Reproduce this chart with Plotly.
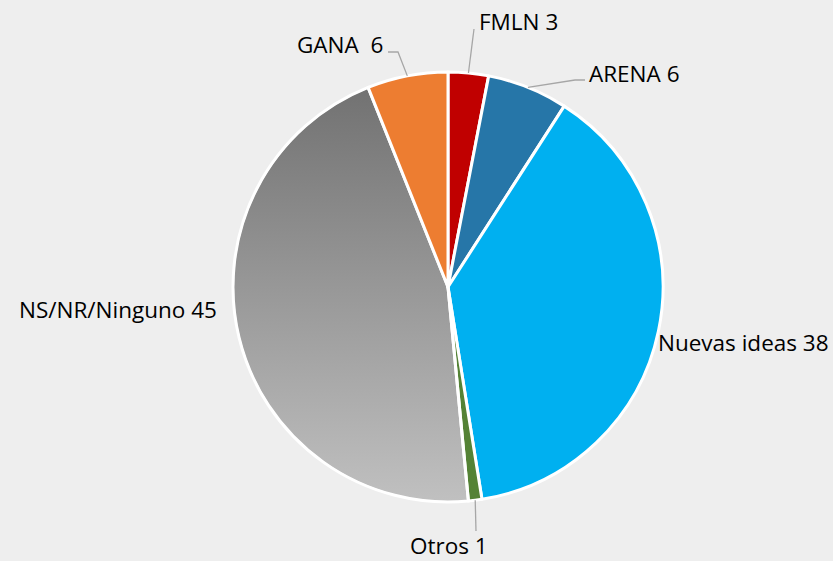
import math
import base64
import plotly.graph_objects as go

labels = ["FMLN", "ARENA", "Nuevas ideas", "Otros", "NS/NR/Ninguno", "GANA"]
values = [3, 6, 38, 1, 45, 6]
separators = [" ", " ", " ", " ", " ", "  "]
colors = ["#c00000", "#2676a8", "#00b0f0", "#548235", "rgba(0,0,0,0)", "#ed7d31"]

W, H = 833, 561
cx, cy, R = 448, 287, 215


def px(x):
    return x / W


def py(y):
    return 1 - y / H


fig = go.Figure(go.Pie(
    labels=labels,
    values=values,
    sort=False,
    direction="clockwise",
    rotation=0,
    textinfo="none",
    hoverinfo="label+value",
    marker=dict(colors=colors, line=dict(color="white", width=3)),
    domain=dict(x=[px(cx - R), px(cx + R)], y=[py(cy + R), py(cy - R)]),
    showlegend=False,
))

# vertical grey gradient fill (shows through the transparent NS/NR/Ninguno slice)
svg = (
    "<svg xmlns='http://www.w3.org/2000/svg' width='430' height='430'>"
    "<defs><linearGradient id='g' x1='0' y1='0' x2='0' y2='1'>"
    "<stop offset='0' stop-color='#6f6f6f'/><stop offset='1' stop-color='#c0c0c0'/>"
    "</linearGradient></defs>"
    "<circle cx='215' cy='215' r='214' fill='url(#g)'/></svg>"
)
src = "data:image/svg+xml;base64," + base64.b64encode(svg.encode()).decode()

# label layout (pixel offsets / anchors), positions are styling only
label_style = {
    "FMLN": dict(pos=(477, 21), xanchor="left", path=[(474, 29)]),
    "ARENA": dict(pos=(587, 73), xanchor="left", path=[(575, 80), (585, 80)]),
    "Nuevas ideas": dict(pos=(656, 342), xanchor="left", path=None),
    "Otros": dict(pos=(449, 545), xanchor="center", path=[(476, 531)]),
    "NS/NR/Ninguno": dict(pos=(219, 309), xanchor="right", path=None),
    "GANA": dict(pos=(385, 45), xanchor="right", path=[(398, 52), (388, 52)]),
}

total = sum(values)
cum = 0
annotations = []
shapes = []
for lab, val, sep in zip(labels, values, separators):
    mid = (cum + val / 2) / total * 2 * math.pi
    cum += val
    ex = cx + R * math.sin(mid)
    ey = cy - R * math.cos(mid)
    st = label_style[lab]
    annotations.append(dict(
        x=px(st["pos"][0]), y=py(st["pos"][1]), xref="paper", yref="paper",
        text=f"{lab}{sep}{val}", showarrow=False, xanchor=st["xanchor"],
        yanchor="middle", font=dict(size=22.5, color="#000000"),
    ))
    if st["path"]:
        pts = [(ex, ey)] + st["path"]
        d = "M " + " L ".join(f"{px(x)} {py(y)}" for x, y in pts)
        shapes.append(dict(type="path", path=d, xref="paper", yref="paper",
                           line=dict(color="#a6a6a6", width=1.3)))

fig.update_layout(
    width=W, height=H,
    margin=dict(l=0, r=0, t=0, b=0),
    paper_bgcolor="#eeeeee",
    plot_bgcolor="#eeeeee",
    font=dict(family="'Open Sans', sans-serif", size=22.5, color="#000000"),
    annotations=annotations,
    shapes=shapes,
    images=[dict(
        source=src, xref="paper", yref="paper",
        x=px(cx - R), y=py(cy - R), sizex=2 * R / W, sizey=2 * R / H,
        xanchor="left", yanchor="top", sizing="stretch", layer="below",
    )],
)

fig.write_html(
    "out.html",
    config={"displayModeBar": False},
    post_script="document.body.style.margin='0';document.body.style.overflow='hidden';",
)
